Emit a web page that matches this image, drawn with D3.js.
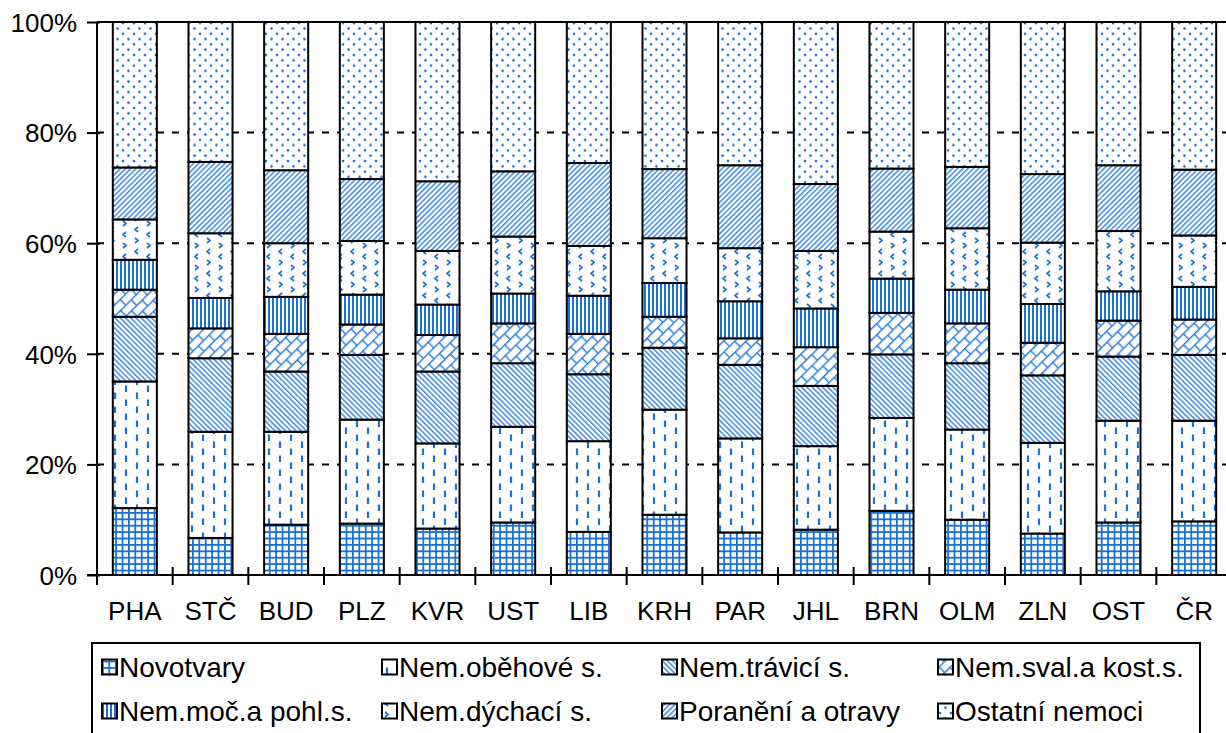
<!DOCTYPE html>
<html><head><meta charset="utf-8">
<script src="https://cdn.jsdelivr.net/npm/d3@7/dist/d3.min.js"></script>
<style>
body{margin:0;background:#fff;overflow:hidden}
svg{display:block}
text{font-family:"Liberation Sans",Arial,sans-serif;fill:#000}
</style>
</head><body>
<svg id="c" width="1226" height="733"></svg>
<script>
// ---- data ----
const categories = ["PHA","STČ","BUD","PLZ","KVR","UST","LIB","KRH","PAR","JHL","BRN","OLM","ZLN","OST","ČR"];
const seriesNames = ["Novotvary","Nem.oběhové s.","Nem.trávicí s.","Nem.sval.a kost.s.","Nem.moč.a pohl.s.","Nem.dýchací s.","Poranění a otravy","Ostatní nemoci"];
const novotvary = [12.1,6.7,9.1,9.3,8.4,9.5,7.8,10.9,7.7,8.2,11.6,10.0,7.5,9.5,9.7];
const obehove   = [22.9,19.2,16.8,18.8,15.4,17.3,16.4,19.0,17.0,15.1,16.8,16.3,16.4,18.4,18.2];
const travici   = [11.7,13.3,10.9,11.7,13.0,11.5,12.1,11.2,13.3,10.9,11.5,12.0,12.2,11.6,11.9];
const sval      = [4.9,5.4,6.8,5.5,6.6,7.2,7.3,5.6,4.8,7.0,7.5,7.2,5.9,6.5,6.4];
const moc       = [5.4,5.5,6.7,5.4,5.5,5.4,6.9,6.1,6.7,7.0,6.2,6.1,7.0,5.3,5.9];
const dychaci   = [7.3,11.7,9.7,9.7,9.7,10.3,9.0,8.1,9.6,10.4,8.5,11.1,11.1,10.9,9.3];
const poraneni  = [9.4,12.9,13.2,11.2,12.6,11.8,15.0,12.5,15.0,12.1,11.4,11.1,12.4,11.9,11.9];
const ostatni   = [26.3,25.3,26.8,28.4,28.8,27.0,25.5,26.6,25.9,29.3,26.5,26.2,27.5,25.9,26.7];
const yTicks = [0,20,40,60,80,100];

const seriesValues = [novotvary,obehove,travici,sval,moc,dychaci,poraneni,ostatni];
const table = categories.map((c,i)=>{const o={cat:c}; seriesNames.forEach((s,j)=>o[s]=seriesValues[j][i]); return o;});

// ---- layout ----
const svg = d3.select("#c");
const L = 97, R = 1232, T = 22, B = 575;
const BLUE = "#1a72d5";
const FONT = "Liberation Sans, Arial, sans-serif";

const x = d3.scaleBand().domain(categories).range([L,R]).paddingInner(0.418).paddingOuter(0.209);
const y = d3.scaleLinear().domain([0,100]).range([B,T]);

// ---- patterns ----
const defs = svg.append("defs");
function pat(id,w,h,rot){
  const p = defs.append("pattern").attr("id",id).attr("patternUnits","userSpaceOnUse")
    .attr("width",w).attr("height",h);
  if(rot) p.attr("patternTransform",`rotate(${rot})`);
  p.append("rect").attr("width",w).attr("height",h).attr("fill","#fff");
  return p;
}
// 0 grid
let p = pat("p0",6.4,6.4);
p.append("path").attr("d","M0.9,0V6.4M0,0.9H6.4").attr("stroke",BLUE).attr("stroke-width",1.8);
// 1 vertical dashes
p = pat("p1",22,14);
p.append("path").attr("d","M5,0.5V7M16,7.5V14").attr("stroke",BLUE).attr("stroke-width",2.2);
// 2 backslash diagonal
p = pat("p2",3.7,3.7,-45);
p.append("path").attr("d","M0.8,0V3.7").attr("stroke",BLUE).attr("stroke-width",1.5).attr("stroke-opacity",0.85);
// 3 diagonal bricks
p = pat("p3",15,16,-45);
p.append("path").attr("d","M0,0.7H15M0,8.7H15M0.7,0V8M8.2,8V16").attr("stroke",BLUE).attr("stroke-width",1.5).attr("stroke-opacity",0.9);
// 4 vertical lines
p = pat("p4",4,4);
p.append("path").attr("d","M1,0V4").attr("stroke",BLUE).attr("stroke-width",2);
// 5 chevrons
p = pat("p5",24,22);
p.append("path").attr("d","M3,1l3,2.5l-3,2.5 M18,7l-3,2.5l3,2.5 M6,12l-3,2.5l3,2.5 M15,18l3,2.5l-3,2.5 M15,-4l3,2.5l-3,2.5")
  .attr("stroke",BLUE).attr("stroke-width",1.7).attr("fill","none");
// 6 slash diagonal
p = pat("p6",3.7,3.7,45);
p.append("path").attr("d","M0.8,0V3.7").attr("stroke",BLUE).attr("stroke-width",1.5).attr("stroke-opacity",0.85);
// 7 dots
p = pat("p7",11,10.6);
p.append("circle").attr("cx",2).attr("cy",2).attr("r",1.35).attr("fill",BLUE);
p.append("circle").attr("cx",7.5).attr("cy",7.3).attr("r",1.35).attr("fill",BLUE);

// ---- gridlines ----
svg.append("g").selectAll("line").data(yTicks.filter(d=>d>0)).join("line")
  .attr("x1",L).attr("x2",R).attr("y1",d=>y(d)).attr("y2",d=>y(d))
  .attr("stroke","#000").attr("stroke-width",2)
  .attr("stroke-dasharray",d=>d===100?null:"7,8");

// ---- bars ----
const stack = d3.stack().keys(seriesNames)(table);
svg.append("g").selectAll("g").data(stack).join("g")
  .attr("fill",(d,i)=>`url(#p${i})`)
  .selectAll("rect").data(d=>d).join("rect")
  .attr("x",d=>x(d.data.cat)).attr("width",x.bandwidth())
  .attr("y",d=>y(d[1])).attr("height",d=>y(d[0])-y(d[1]))
  .attr("stroke","#000").attr("stroke-width",2);

// ---- y axis ----
const ya = svg.append("g").attr("transform",`translate(${L},0)`)
  .call(d3.axisLeft(y).tickValues(yTicks).tickFormat(d=>d+"%").tickSize(10).tickPadding(20));
ya.select(".domain").attr("stroke","#000").attr("stroke-width",2).attr("d",`M0,${B+10}V${T}`);
ya.selectAll(".tick line").attr("stroke","#000").attr("stroke-width",2).attr("x1",3).attr("x2",-10);
ya.selectAll(".tick text").attr("font-size",26).attr("font-family",FONT)
  .attr("x",-20).attr("dy","0.36em");

// ---- x axis ----
const xa = svg.append("g").attr("transform",`translate(0,${B})`)
  .call(d3.axisBottom(x).tickSize(0).tickPadding(27));
xa.select(".domain").attr("stroke","#000").attr("stroke-width",2).attr("d",`M${L-10},0H${R}`);
xa.selectAll(".tick text").attr("font-size",26).attr("font-family",FONT);
const bounds = d3.range(categories.length+1).map(i=>L + i*x.step());
svg.append("g").selectAll("line").data(bounds).join("line")
  .attr("x1",d=>d).attr("x2",d=>d).attr("y1",B-8).attr("y2",B+10)
  .attr("stroke","#000").attr("stroke-width",2);

// ---- legend ----
const lg = svg.append("g");
lg.append("rect").attr("x",92).attr("y",643).attr("width",1108).attr("height",110)
  .attr("fill","#fff").attr("stroke","#000").attr("stroke-width",2);
const colX = [102,382,662,938], rowY = [667,711];
const items = lg.selectAll("g.it").data(seriesNames).join("g").attr("class","it")
  .attr("transform",(d,i)=>`translate(${colX[i%4]},${rowY[Math.floor(i/4)]})`);
items.append("rect").attr("x",0).attr("y",-7.5).attr("width",15).attr("height",15)
  .attr("fill",(d,i)=>`url(#p${i})`).attr("stroke","#000").attr("stroke-width",2);
items.append("text").attr("x",17).attr("y",0).attr("dy","0.36em")
  .attr("font-size",28).attr("font-family",FONT).text(d=>d);
</script>
</body></html>
